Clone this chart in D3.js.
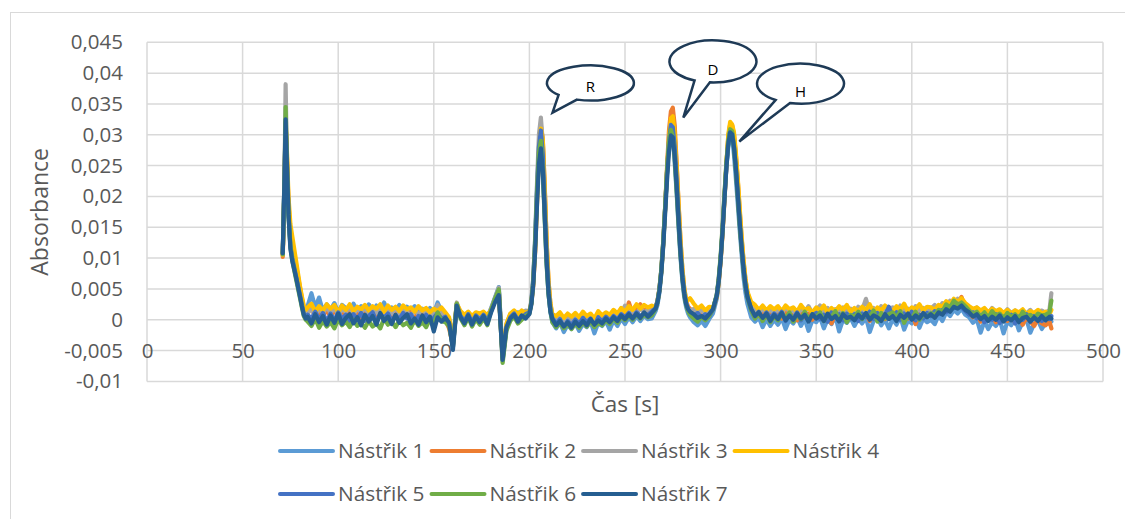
<!DOCTYPE html>
<html>
<head>
<meta charset="utf-8">
<script src="https://cdn.jsdelivr.net/npm/d3@7"></script>
<style>
  body { margin: 0; background: #fff; }
  text { font-family: "Open Sans", sans-serif; }
</style>
</head>
<body>
<svg id="chart" width="1125" height="519"></svg>
<script>
// sample times [s]
const times = [
  71, 72, 72.5, 73, 74, 75, 76, 77, 78, 79,
  80, 81, 82, 83, 84, 86, 88, 90, 92, 94,
  96, 98, 100, 102, 104, 106, 108, 110, 112, 114,
  116, 118, 120, 122, 124, 126, 128, 130, 132, 134,
  136, 138, 140, 142, 144, 146, 148, 150, 152, 154,
  156, 158, 160, 162, 164, 166, 168, 170, 172, 174,
  176, 178, 180, 182, 184, 186, 188, 190, 192, 194,
  196, 198, 200, 201, 202, 203, 204, 205, 206, 207,
  208, 209, 210, 211, 212, 214, 216, 218, 220, 222,
  224, 226, 228, 230, 232, 234, 236, 238, 240, 242,
  244, 246, 248, 250, 252, 254, 256, 258, 260, 262,
  264, 266, 267, 268, 269, 270, 271, 272, 273, 274,
  275, 276, 277, 278, 279, 280, 281, 282, 283, 284,
  286, 288, 290, 292, 294, 296, 298, 299, 300, 301,
  302, 303, 304, 305, 306, 307, 308, 309, 310, 311,
  312, 313, 314, 316, 318, 320, 322, 324, 326, 328,
  330, 332, 334, 336, 338, 340, 342, 344, 346, 348,
  350, 352, 354, 356, 358, 360, 362, 364, 366, 368,
  370, 372, 374, 376, 378, 380, 382, 384, 386, 388,
  390, 392, 394, 396, 398, 400, 402, 404, 406, 408,
  410, 412, 414, 416, 418, 420, 422, 424, 426, 428,
  430, 432, 434, 436, 438, 440, 442, 444, 446, 448,
  450, 452, 454, 456, 458, 460, 462, 464, 466, 468,
  470, 472, 473
];

// absorbance, in units of 0.001
const nastrik1 = [
  10.6, 24, 31.5, 27.5, 18, 12.5, 10.5, 9.0, 7.5, 6.0,
  4.5, 3.0, 1.8, 1.5, 2.2, 4.3, 2.0, 3.6, 1.4, 2.5,
  1.6, 2.7, 1.2, 2.4, 1.9, 1.0, 2.6, 1.5, 2.2, 1.1,
  2.5, 1.3, 2.3, 1.7, 2.8, 1.2, 2.0, 1.4, 2.4, 1.0,
  2.1, 1.5, 2.2, 1.1, 1.8, 1.3, 1.9, 1.0, 2.8, 1.4,
  0.8, 0.2, -3.8, 2.6, 1.0, 0.3, 1.1, 0.0, 0.9, 0.4,
  1.0, 0.4, 1.9, 3.6, 5.3, -5.8, -0.8, 0.9, 0.3, 1.2,
  0.6, 1.1, 1.2, 2.9, 6.6, 13.0, 21.5, 28.0, 30.0, 25.3,
  16.8, 9.2, 4.2, 1.2, -0.4, -1.4, -0.4, -2.0, -0.8, -1.5,
  -0.5, -1.8, -0.7, -1.2, -0.3, -2.2, -0.5, -1.0, -0.2, -1.6,
  -0.1, -1.0, 0.2, -0.7, 0.4, -0.4, 0.6, -0.2, 0.7, 0.1,
  0.2, 1.4, 2.4, 4.4, 7.6, 12.3, 18.0, 23.9, 28.4, 30.5,
  29.3, 25.5, 20.6, 15.2, 10.2, 6.3, 3.6, 2.0, 1.0, 0.4,
  -0.4, -0.9, -0.2, -1.0, 0.1, 1.0, 3.4, 5.9, 9.5, 14.3,
  19.8, 24.7, 28.0, 30.0, 29.7, 26.7, 22.8, 18.7, 14.5, 10.6,
  6.9, 4.4, 2.6, 0.4, -0.3, 0.4, -1.2, 0.1, -1.0, 0.0,
  -0.8, 0.3, -1.5, 0.0, -0.6, 0.5, -1.0, 0.2, -1.8, -0.1,
  -0.4, 0.4, -1.4, 0.1, -0.7, 0.6, -1.9, 0.0, -0.5, 0.3,
  -1.0, 0.2, -0.6, 0.4, -2.0, -0.2, 0.3, -0.9, 0.0, -1.4,
  0.1, -0.8, 0.5, -1.6, -0.1, -0.6, 0.4, -1.3, 0.2, -0.4,
  0.0, -0.7, 0.7, -0.2, 1.2, 0.6, 1.6, 1.0, 1.8, 0.8,
  0.4, -0.5, 0.1, -2.1, -0.2, -1.5, -0.4, -1.0, 0.0, -2.2,
  -0.3, -0.9, 0.2, -1.7, -0.4, 0.0, -2.1, -0.6, -0.1, -1.5,
  -0.5, 0.0, -0.3
];
const nastrik2 = [
  10.2, 23, 31.5, 28, 19, 14, 12, 10.5, 8.8, 7.0,
  5.2, 3.5, 2.0, 1.2, 1.5, 1.9, 0.4, 1.3, 0.6, 1.6,
  0.5, 1.4, 0.8, 1.7, 0.3, 1.2, 0.7, 1.5, 0.2, 1.1,
  0.9, 1.6, 0.4, 1.3, 0.6, 1.8, 0.5, 1.0, 0.3, 1.4,
  0.8, 1.2, 0.2, 1.1, 0.6, 1.3, 0.4, -0.5, 1.0, 0.6,
  0.0, -1.4, -4.2, 2.4, 0.8, 0.1, 1.0, 0.3, 0.8, 0.2,
  0.7, 0.1, 1.5, 3.2, 4.6, -6.2, -1.0, 0.6, 1.1, 0.4,
  1.1, 0.5, 1.2, 2.6, 5.5, 11.0, 19.0, 27.2, 31.5, 29.3,
  21.9, 12.8, 6.3, 2.5, 0.7, -0.4, 0.3, -0.8, 0.1, -0.6,
  0.2, -0.7, 0.4, -0.3, 0.6, -0.5, 0.5, 0.0, 0.8, 0.1,
  1.0, 0.3, 1.4, 0.6, 2.8, 1.0, 1.8, 2.5, 1.3, 1.9,
  1.6, 2.0, 3.1, 5.0, 8.0, 12.4, 18.2, 24.9, 30.7, 33.8,
  34.4, 31.5, 25.5, 19.0, 13.0, 8.2, 5.0, 3.0, 2.1, 1.8,
  1.2, 0.5, 1.4, 0.7, 1.3, 1.7, 3.7, 6.0, 9.4, 13.8,
  19.2, 24.8, 29.6, 31.7, 31.6, 30.0, 26.7, 22.5, 17.6, 13.2,
  9.5, 6.5, 4.5, 2.1, 1.4, 0.6, 1.5, 0.4, 1.2, 0.3,
  1.1, 0.2, 1.4, 0.5, 0.9, -0.1, 1.3, 0.4, 1.0, 0.0,
  0.8, 1.4, 0.1, 1.1, -0.6, 0.9, 0.3, 1.2, 0.5, 0.7,
  0.2, 1.3, 0.6, 0.9, -0.2, 1.0, 0.4, 1.5, 0.1, 0.8,
  1.1, 0.3, 1.4, 0.6, 0.2, 1.2, -0.7, 0.9, 0.5, 1.3,
  0.7, 1.5, 1.0, 1.9, 1.6, 2.5, 2.2, 2.8, 3.7, 2.0,
  1.3, 0.4, 1.0, -0.3, 0.6, 0.1, 0.8, -0.4, 0.5, 0.2,
  -0.2, 0.6, -0.5, 0.3, -0.8, 0.4, -0.3, -1.0, 0.2, -0.6,
  -0.9, -0.3, -1.4
];
const nastrik3 = [
  10.5, 25, 38.2, 29, 18, 12.5, 10.2, 8.8, 7.2, 5.8,
  4.2, 2.8, 1.5, 0.8, 1.0, 1.8, 0.7, 1.9, 1.0, 2.2,
  1.1, 2.0, 0.8, 1.7, 1.3, 2.1, 0.9, 1.8, 1.2, 2.0,
  0.8, 1.6, 1.1, 2.2, 0.7, 1.5, 1.0, 1.9, 0.9, 1.6,
  1.2, 0.6, 1.5, 0.9, 1.7, 1.0, 1.3, 0.5, 2.4, 1.2,
  0.6, -0.2, -4.0, 2.8, 0.9, 0.4, 1.2, 0.2, 1.0, 0.5,
  1.1, 0.3, 1.8, 3.5, 5.2, -6.0, -1.3, 0.8, 1.3, 0.2,
  0.9, 1.5, 1.3, 3.0, 6.7, 13.3, 22.3, 30.1, 32.8, 28.8,
  20.2, 11.4, 5.3, 2.0, 0.5, -0.2, 0.6, -0.5, 0.8, -0.1,
  0.6, -0.3, 0.9, 0.1, 0.4, -0.2, 1.0, 0.3, 0.7, 0.2,
  1.2, 0.5, 1.0, 2.3, 0.8, 1.5, 0.9, 1.9, 1.1, 1.6,
  1.4, 2.0, 3.0, 5.0, 8.1, 12.7, 18.3, 24.2, 29.1, 31.8,
  31.4, 28.2, 23.0, 17.1, 11.6, 7.4, 4.5, 2.7, 1.8, 1.4,
  1.8, 0.9, 1.6, 0.8, 1.4, 1.7, 4.0, 6.5, 10.0, 14.7,
  20.0, 25.2, 29.4, 31.4, 31.0, 28.9, 25.3, 20.9, 16.3, 12.0,
  8.5, 5.8, 3.9, 1.9, 1.6, 0.8, 2.0, 1.1, 1.7, 0.9,
  1.8, 1.0, 2.1, 1.3, 1.5, 0.7, 1.9, 1.2, 2.2, 1.0,
  1.6, 2.3, 1.1, 1.9, 0.8, 1.7, 1.2, 2.0, 1.4, 1.8,
  1.0, 2.1, 1.5, 3.4, 1.2, 1.9, 0.9, 2.2, 1.3, 1.7,
  2.0, 1.1, 2.3, 1.4, 1.8, 1.0, 2.2, 1.5, 1.9, 1.2,
  1.8, 2.4, 1.6, 2.7, 2.2, 3.1, 2.6, 3.4, 2.9, 2.3,
  2.1, 1.4, 2.0, 1.2, 1.8, 1.0, 1.9, 1.3, 1.6, 0.9,
  1.7, 1.1, 1.5, 0.8, 1.4, 1.0, 1.6, 0.7, 1.3, 1.5,
  1.1, 1.6, 4.3
];
const nastrik4 = [
  10.5, 23, 32, 29, 20, 15.5, 13.5, 11.5, 9.5, 7.5,
  5.5, 3.8, 2.3, 1.6, 2.0, 2.6, 1.3, 2.2, 1.5, 2.5,
  1.8, 2.4, 1.2, 2.3, 1.6, 2.5, 1.4, 2.1, 1.7, 2.4,
  1.5, 2.2, 1.8, 2.5, 1.3, 2.3, 1.6, 2.1, 1.4, 2.3,
  1.7, 2.0, 1.3, 2.2, 1.5, 1.9, 1.2, 1.8, 1.4, 2.0,
  1.2, 0.4, -3.5, 2.6, 1.4, 0.8, 1.3, 0.6, 1.2, 1.0,
  1.3, 0.7, 1.6, 3.0, 4.4, -6.0, -0.6, 1.0, 1.5, 0.9,
  1.5, 1.1, 1.4, 2.7, 5.8, 11.4, 19.3, 27.3, 31.0, 29.3,
  21.6, 12.7, 6.2, 2.7, 0.9, 0.6, 1.2, 0.3, 1.0, 0.5,
  1.1, 0.4, 1.3, 0.6, 1.0, 0.2, 1.4, 0.7, 1.2, 0.8,
  1.6, 1.0, 1.9, 1.3, 2.2, 1.6, 2.5, 1.8, 2.4, 2.0,
  2.3, 1.9, 2.9, 4.8, 7.8, 12.2, 17.9, 24.2, 29.7, 32.7,
  33.0, 30.2, 25.1, 18.9, 13.1, 8.4, 5.1, 3.3, 3.2, 3.5,
  2.6, 1.8, 2.3, 1.5, 2.1, 2.0, 3.8, 6.1, 9.6, 14.1,
  19.5, 25.1, 30.0, 32.1, 31.7, 30.4, 27.1, 22.8, 18.1, 13.5,
  9.7, 6.7, 4.6, 2.9, 2.4, 1.6, 2.3, 1.5, 2.2, 1.7,
  2.2, 1.4, 2.3, 1.7, 2.0, 1.3, 2.4, 1.6, 1.9, 1.2,
  2.0, 1.5, 2.3, 1.1, 1.9, 1.4, 2.2, 1.6, 2.4, 1.3,
  1.9, 1.4, 2.1, 1.6, 2.5, 1.2, 2.0, 1.5, 2.3, 1.7,
  1.4, 2.2, 1.6, 2.6, 1.3, 2.0, 1.7, 2.5, 1.5, 2.1,
  2.0, 1.6, 2.4, 2.1, 3.0, 2.5, 3.4, 2.9, 3.5, 2.7,
  2.2, 1.8, 2.0, 1.5, 1.9, 1.2, 1.8, 1.4, 1.7, 1.1,
  1.6, 1.0, 1.5, 1.2, 1.7, 0.9, 1.4, 1.1, 1.6, 1.0,
  1.3, 0.8, 1.6
];
const nastrik5 = [
  10.7, 24, 32, 27, 17.5, 12, 10, 8.5, 7.0, 5.5,
  4.0, 2.5, 1.0, 0.5, 0.8, 0.2, 1.3, 0.0, 1.1, -0.3,
  1.0, -0.1, 1.2, 0.2, 0.8, -0.4, 0.9, 0.1, 1.1, -0.2,
  0.6, 1.2, -0.3, 0.9, 0.3, 1.0, -0.2, 0.7, 0.1, 1.1,
  0.2, 0.9, -0.4, 0.6, 0.0, 0.8, -0.3, 0.3, 1.1, 0.1,
  0.5, -0.6, -4.5, 2.5, 0.6, -0.2, 0.9, -0.4, 0.7, 0.0,
  0.8, -0.2, 1.4, 3.1, 4.8, -6.6, -1.4, 0.4, 1.0, 0.0,
  0.3, 0.9, 1.2, 2.7, 6.2, 12.4, 20.8, 28.1, 30.7, 26.9,
  18.9, 10.7, 5.0, 1.8, 0.3, -0.7, 0.1, -1.3, -0.2, -0.9,
  0.0, -0.7, 0.3, -0.5, 0.2, -1.0, 0.4, -0.3, 0.5, -0.2,
  0.6, 0.0, 0.9, 0.4, 1.1, 0.1, 1.2, 0.6, 0.9, 0.8,
  1.3, 1.9, 3.0, 4.9, 8.1, 12.6, 18.2, 24.0, 28.9, 31.6,
  31.2, 28.1, 22.9, 17.0, 11.6, 7.3, 4.4, 2.7, 1.7, 1.2,
  0.6, 1.1, 0.3, 0.9, 0.5, 1.7, 4.0, 6.3, 9.8, 14.4,
  19.6, 24.7, 28.7, 30.7, 30.4, 28.2, 24.7, 20.4, 15.9, 11.8,
  8.3, 5.7, 3.8, 1.6, 0.4, 1.3, 0.1, 1.2, 0.3, 1.0,
  0.4, 1.3, -0.2, 0.9, 0.2, 1.2, -0.1, 1.0, 0.3, 0.7,
  1.1, 0.1, 0.8, -0.3, 1.2, 0.4, 0.9, -0.1, 1.0, 0.2,
  0.9, -0.2, 1.0, 0.4, 1.3, 0.1, 1.1, 0.3, 0.7, 2.1,
  0.5, 1.2, 0.0, 1.0, 0.3, 1.3, -0.1, 0.8, 0.2, 1.1,
  0.6, 1.4, 0.9, 1.6, 1.2, 2.2, 1.9, 2.6, 2.0, 1.4,
  0.8, 1.2, 0.2, 0.7, -0.4, 0.6, 0.0, 0.9, -0.5, 0.5,
  0.1, 0.8, -0.6, 0.5, 0.0, 0.9, -0.3, 0.6, 0.2, -0.2,
  0.4, 0.1, 0.6
];
const nastrik6 = [
  10.6, 24, 34.5, 27.5, 17, 11.8, 9.6, 8.0, 6.5, 5.0,
  3.5, 2.0, 0.6, 0.0, -0.3, -1.0, 0.2, -1.3, -0.2, -1.1,
  -0.4, -1.4, 0.1, -0.9, -0.3, -1.2, 0.0, -1.0, -0.5, -1.3,
  -0.2, -1.1, -0.6, -1.4, 0.2, -0.8, -0.3, -1.2, -0.1, -0.9,
  -0.5, -1.3, 0.0, -1.0, -0.4, -1.2, 0.1, -0.9, 1.2, -0.2,
  -0.4, -1.0, -4.4, 2.6, 0.2, -0.9, 0.4, -1.1, 0.1, -0.8,
  0.2, -0.9, 1.6, 3.4, 4.9, -7.0, -1.8, -0.2, 0.5, -0.6,
  0.0, 0.6, 1.0, 2.6, 6.1, 12.4, 20.6, 27.1, 29.0, 24.0,
  16.3, 8.9, 4.1, 1.4, -0.4, -1.2, -0.5, -1.4, -0.7, -1.5,
  -0.6, -1.3, -0.4, -1.1, -0.2, -1.2, -0.5, -0.9, 0.0, -0.7,
  0.2, -0.5, 0.5, -0.1, 0.7, 0.0, 0.9, 0.2, 0.8, 0.4,
  0.7, 1.8, 2.9, 4.9, 8.1, 12.7, 18.3, 24.3, 28.7, 30.8,
  29.6, 26.1, 21.0, 15.6, 10.6, 6.7, 4.0, 2.4, 1.4, 0.8,
  0.2, -0.3, 0.5, -0.1, 0.6, 1.7, 4.1, 6.7, 10.3, 15.0,
  20.3, 25.4, 28.9, 30.9, 30.6, 27.9, 24.2, 19.8, 15.3, 11.4,
  8.0, 5.5, 3.7, 1.5, 0.2, 1.1, -0.2, 0.9, -0.4, 0.6,
  -0.1, 1.0, 0.3, 1.2, -0.3, 0.8, 0.1, 1.3, 0.0, 0.9,
  0.3, 1.2, -0.2, 0.9, 0.4, 1.4, 0.0, 1.1, -0.4, 0.8,
  0.5, 1.3, 0.1, 1.0, 0.4, 1.5, -0.3, 1.1, 0.2, 0.9,
  1.2, 0.3, 1.4, -0.5, 0.8, 0.2, 1.3, 0.0, 0.9, 0.5,
  1.1, 0.7, 1.6, 1.3, 2.5, 2.0, 3.1, 2.4, 2.8, 2.2,
  1.5, 0.9, 1.3, 0.5, 1.2, 0.3, 1.4, 0.6, 1.0, 0.2,
  1.1, 0.4, 0.9, 0.1, 1.3, 0.5, 0.8, 0.2, 1.0, 0.7,
  0.8, 1.2, 3.1
];
const nastrik7 = [
  10.8, 24, 32.5, 27, 17, 11.5, 9.5, 8.2, 6.8, 5.3,
  3.8, 2.2, 0.8, 0.2, 0.5, -0.6, 0.9, -0.4, 0.6, -0.8,
  0.7, -0.5, 1.0, -0.7, 0.3, 0.9, -0.6, 0.4, -0.9, 0.8,
  -0.3, 0.6, -0.8, 1.1, -0.2, 0.5, -0.7, 0.8, -0.5, 0.3,
  0.9, -0.6, 0.2, -0.8, 0.7, -0.4, 0.5, -1.9, 0.4, -0.3,
  0.3, -0.5, -4.9, 2.3, 0.4, -0.6, 0.7, -0.8, 0.5, -0.4,
  0.6, -0.7, 1.2, 2.8, 4.0, -6.5, -1.2, 0.2, 0.8, -0.3,
  0.7, 0.2, 0.9, 2.4, 5.6, 11.1, 18.8, 25.3, 27.8, 24.3,
  17.0, 9.5, 4.3, 1.3, 0.1, -0.9, -0.2, -1.1, -0.4, -1.3,
  -0.3, -1.0, -0.2, -0.9, 0.1, -0.8, -0.1, -0.6, 0.2, -0.4,
  0.4, -0.2, 0.7, 0.1, 0.9, 0.2, 1.0, 0.3, 1.2, 0.5,
  1.1, 1.8, 2.8, 4.6, 7.6, 11.9, 17.2, 22.7, 27.3, 29.9,
  29.6, 26.5, 21.7, 16.1, 10.9, 6.9, 4.2, 2.5, 1.7, 1.3,
  0.9, 0.3, 0.6, 0.2, 0.9, 1.7, 3.9, 6.3, 9.7, 14.2,
  19.4, 24.5, 28.4, 30.4, 30.1, 28.0, 24.5, 20.2, 15.8, 11.7,
  8.3, 5.6, 3.8, 1.8, 0.6, 1.2, 0.3, 1.0, -0.2, 0.8,
  0.1, 1.1, -0.1, 0.7, 0.0, 1.0, 0.2, 0.8, -0.3, 0.9,
  0.2, 0.7, -0.2, 1.0, 0.1, 0.6, -0.3, 0.9, 0.3, 0.5,
  -0.1, 0.8, 0.2, 1.1, 0.0, 0.7, 0.4, -0.2, 0.9, 0.1,
  0.6, -0.2, 0.8, 0.3, 1.0, 0.0, 0.7, 0.2, 1.1, 0.4,
  0.9, 0.3, 1.2, 0.8, 1.7, 1.3, 2.1, 1.8, 2.3, 1.6,
  1.2, 0.5, 0.9, 0.1, 0.6, -0.2, 0.5, 0.0, 0.7, -0.3,
  0.4, -0.1, 0.6, -0.4, 0.3, 0.5, -0.3, 0.4, -0.2, 0.6,
  -0.1, 0.5, 0.2
];

const seriesNames = ['Nástřik 1', 'Nástřik 2', 'Nástřik 3', 'Nástřik 4', 'Nástřik 5', 'Nástřik 6', 'Nástřik 7'];
const seriesValues = [nastrik1, nastrik2, nastrik3, nastrik4, nastrik5, nastrik6, nastrik7];
const seriesColors = ['#5b9bd5', '#ed7d31', '#a5a5a5', '#ffc000', '#4472c4', '#70ad47', '#255e91'];

const xTicks = [0, 50, 100, 150, 200, 250, 300, 350, 400, 450, 500];
const yTicks = [-10, -5, 0, 5, 10, 15, 20, 25, 30, 35, 40, 45]; // x 0.001

// speech bubbles: tip and bubble centre in data units (s, 0.001)
const callouts = [
  {label: 'R', tipT: 212.1, tipV: 33.6, t: 231.9, v: 38.4, a1: 108, a2: 137, ry: 17.5, dy: 4},
  {label: 'D', tipT: 280.5, tipV: 32.8, t: 296.0, v: 41.9, a1: 94, a2: 115, ry: 21, dy: 8},
  {label: 'H', tipT: 309.8, tipV: 28.9, t: 341.8, v: 38.3, a1: 104, a2: 125, ry: 20, dy: 8.5}
];

const svg = d3.select('#chart');
const plot = {left: 147, right: 1103, top: 42.3, bottom: 381.4};

const x = d3.scaleLinear().domain([0, 500]).range([plot.left, plot.right]);
const y = d3.scaleLinear().domain([-10, 45]).range([plot.bottom, plot.top]);

const fmt = d => String(+(d / 1000).toFixed(3)).replace('.', ',');

// chart border
svg.append('rect')
  .attr('x', 10.5).attr('y', 12.5)
  .attr('width', 1130).attr('height', 530)
  .attr('fill', 'none')
  .attr('stroke', '#d9d9d9')
  .attr('stroke-width', 1);

// grid
const grid = svg.append('g').attr('stroke', '#d9d9d9').attr('stroke-width', 1.5);
grid.selectAll('.gy')
  .data(yTicks)
  .enter()
  .append('line')
  .attr('x1', plot.left).attr('x2', plot.right)
  .attr('y1', d => y(d)).attr('y2', d => y(d));
grid.selectAll('.gx')
  .data(xTicks)
  .enter()
  .append('line')
  .attr('y1', plot.top).attr('y2', plot.bottom)
  .attr('x1', d => x(d)).attr('x2', d => x(d));

// y axis labels
const yAxis = svg.append('g')
  .attr('transform', `translate(${plot.left},0)`)
  .call(d3.axisLeft(y).tickValues(yTicks).tickSize(0).tickPadding(24).tickFormat(fmt));
yAxis.select('.domain').remove();
yAxis.selectAll('text')
  .attr('fill', '#595959')
  .style('font-size', '20.5px')
  .style('font-family', '"Open Sans", sans-serif');

// x axis labels sit on the -0,005 line
const xAxis = svg.append('g')
  .attr('transform', `translate(0,${y(-5)})`)
  .call(d3.axisBottom(x).tickValues(xTicks).tickSize(0).tickFormat(d => d));
xAxis.select('.domain').remove();
xAxis.selectAll('text')
  .attr('y', 0)
  .attr('dy', '0.36em')
  .attr('fill', '#595959')
  .style('font-size', '20.5px')
  .style('font-family', '"Open Sans", sans-serif');

// series
const line = d3.line()
  .x((d, i) => x(times[i]))
  .y(d => y(d));

seriesValues.forEach((vals, k) => {
  if (vals.length !== times.length) console.error(seriesNames[k], vals.length, times.length);
  svg.append('path')
    .datum(vals.slice(0, times.length))
    .attr('fill', 'none')
    .attr('stroke', seriesColors[k])
    .attr('stroke-width', 4.2)
    .attr('stroke-linejoin', 'round')
    .attr('stroke-linecap', 'round')
    .attr('d', line);
});

// callouts
const rad = a => a * Math.PI / 180;
callouts.forEach(c => {
  const cx = x(c.t), cy = y(c.v), rx = 43.5;
  const p = a => [cx + rx * Math.cos(rad(a)), cy + c.ry * Math.sin(rad(a))];
  const s = p(c.a2), e = p(c.a1);
  const path = `M${s[0]},${s[1]} A${rx},${c.ry} 0 1 1 ${e[0]},${e[1]} L${x(c.tipT)},${y(c.tipV)} Z`;
  svg.append('path')
    .attr('d', path)
    .attr('fill', '#fff')
    .attr('stroke', '#1e3a56')
    .attr('stroke-width', 2.5)
    .attr('stroke-linejoin', 'miter');
  svg.append('text')
    .attr('x', cx).attr('y', cy + c.dy)
    .attr('dy', '0.35em')
    .attr('text-anchor', 'middle')
    .style('font-size', '15px')
    .attr('fill', '#000')
    .text(c.label);
});

// axis titles
svg.append('text')
  .attr('x', (plot.left + plot.right) / 2)
  .attr('y', 411.5)
  .attr('text-anchor', 'middle')
  .attr('fill', '#595959')
  .style('font-size', '22.5px')
  .text('Čas [s]');

svg.append('text')
  .attr('transform', `translate(48,${(plot.top + plot.bottom) / 2}) rotate(-90)`)
  .attr('text-anchor', 'middle')
  .attr('fill', '#595959')
  .style('font-size', '23px')
  .text('Absorbance');

// legend
const legendRows = [[0, 1, 2, 3], [4, 5, 6]];
const legendY = [451, 494];
legendRows.forEach((row, r) => {
  let lx = 280;
  row.forEach(k => {
    const g = svg.append('g').attr('transform', `translate(${lx},${legendY[r]})`);
    g.append('line')
      .attr('x1', 0).attr('x2', 53)
      .attr('stroke', seriesColors[k])
      .attr('stroke-width', 4)
      .attr('stroke-linecap', 'round');
    const t = g.append('text')
      .attr('x', 58)
      .attr('dy', '0.35em')
      .attr('fill', '#595959')
      .style('font-size', '20.8px')
      .text(seriesNames[k]);
    lx += 58 + t.node().getComputedTextLength() + 7;
  });
});
</script>
</body>
</html>
